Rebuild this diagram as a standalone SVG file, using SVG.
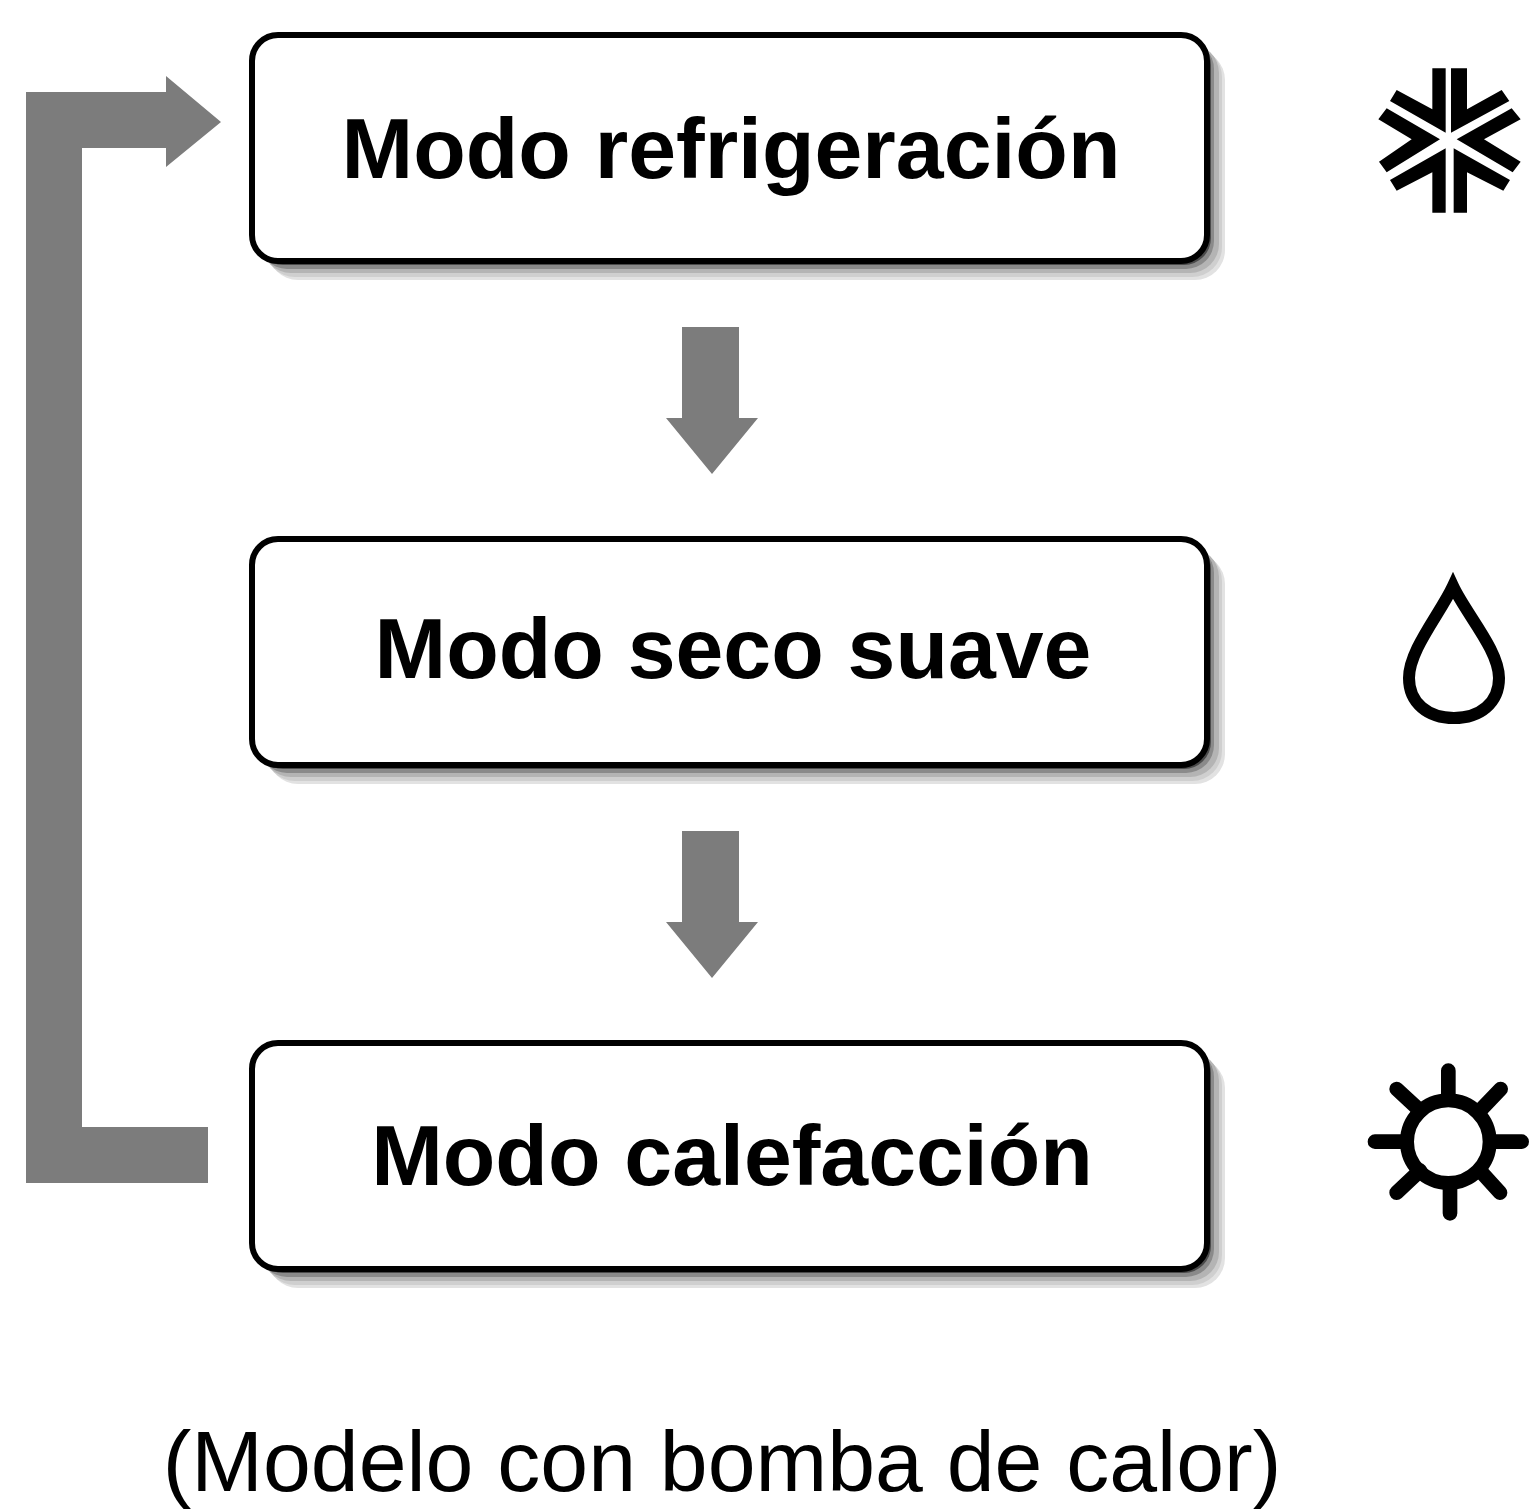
<svg xmlns="http://www.w3.org/2000/svg" width="1531" height="1512" viewBox="0 0 1531 1512">
<style>
.box{fill:#fff;stroke:#000;stroke-width:6}
.s{stroke:none}
.lbl{font-family:"Liberation Sans",Arial,sans-serif;font-weight:700;font-size:86px;fill:#000;text-anchor:middle}
.note{font-family:"Liberation Sans",Arial,sans-serif;font-size:86px;fill:#000;text-anchor:middle}
.arrow{fill:#7c7c7c}
.ic{fill:#000}
</style>
<defs>
<g id="shadow">
<rect class="s" x="268" y="50" width="957" height="230" rx="30" fill="#e2e2e2"/>
<rect class="s" x="265" y="47" width="957" height="230" rx="30" fill="#cfcfcf"/>
<rect class="s" x="262" y="44" width="957" height="229" rx="29" fill="#b4b4b4"/>
<rect class="s" x="259" y="41" width="955" height="228" rx="28" fill="#8a8a8a"/>
<rect class="s" x="256" y="38" width="955" height="227" rx="27" fill="#4a4a4a"/>
</g>
</defs>
<rect width="1531" height="1512" fill="#fff"/>
<g id="connectors">
<polygon class="arrow" points="26,92 166,92 166,76 221,122 166,167 166,148 82,148 82,1127 208,1127 208,1183 26,1183"/>
<polygon class="arrow" points="682,327 739,327 739,418 758,418 712,474 666,418 682,418"/>
<polygon class="arrow" points="682,831 739,831 739,922 758,922 712,978 666,922 682,922"/>
</g>
<g id="node-refrigeracion">
<use href="#shadow"/>
<rect class="box" x="252" y="35" width="955" height="226" rx="26"/>
<text class="lbl" x="731" y="178">Modo refrigeración</text>
</g>
<g id="node-seco">
<use href="#shadow" y="504"/>
<rect class="box" x="252" y="539" width="955" height="226" rx="26"/>
<text class="lbl" x="733" y="678">Modo seco suave</text>
</g>
<g id="node-calefaccion">
<use href="#shadow" y="1008"/>
<rect class="box" x="252" y="1043" width="955" height="226" rx="26"/>
<text class="lbl" x="732" y="1185">Modo calefacción</text>
</g>
<g id="icon-snow" transform="translate(1340 40) scale(.33333)">
<polygon class="ic" points="277,85 317,85 317,278 150,183 170,150 277,208"/>
<polygon class="ic" points="333,85 381,85 381,208 485,150 508,183 333,278"/>
<polygon class="ic" points="515,205 542,238 432,298 542,365 518,397 350,298"/>
<polygon class="ic" points="341,325 510,420 490,452 381,397 381,518 341,518"/>
<polygon class="ic" points="277,518 317,518 317,325 150,420 170,452 277,397"/>
<polygon class="ic" points="140,205 115,238 215,298 117,365 140,397 300,298"/>
</g>
<g id="icon-drop">
<path d="M1453 586C1440 614 1409 650 1409 678C1409 703 1428 718 1454 718C1480 718 1499 703 1499 678C1499 650 1466 614 1453 586Z" fill="none" stroke="#000" stroke-width="12" stroke-linejoin="miter"/>
</g>
<g id="icon-sun" transform="translate(1340 1040) scale(.33333)" fill="none" stroke="#000" stroke-width="44" stroke-linecap="round">
<circle cx="325" cy="305" r="124" stroke-width="42"/>
<path d="M325 92V170M330 440V520M105 305H190M460 305H545M170 147L240 212M482 147L420 212M170 458L240 392M480 458L420 392"/>
</g>
<text class="note" x="722" y="1491">(Modelo con bomba de calor)</text>
</svg>
